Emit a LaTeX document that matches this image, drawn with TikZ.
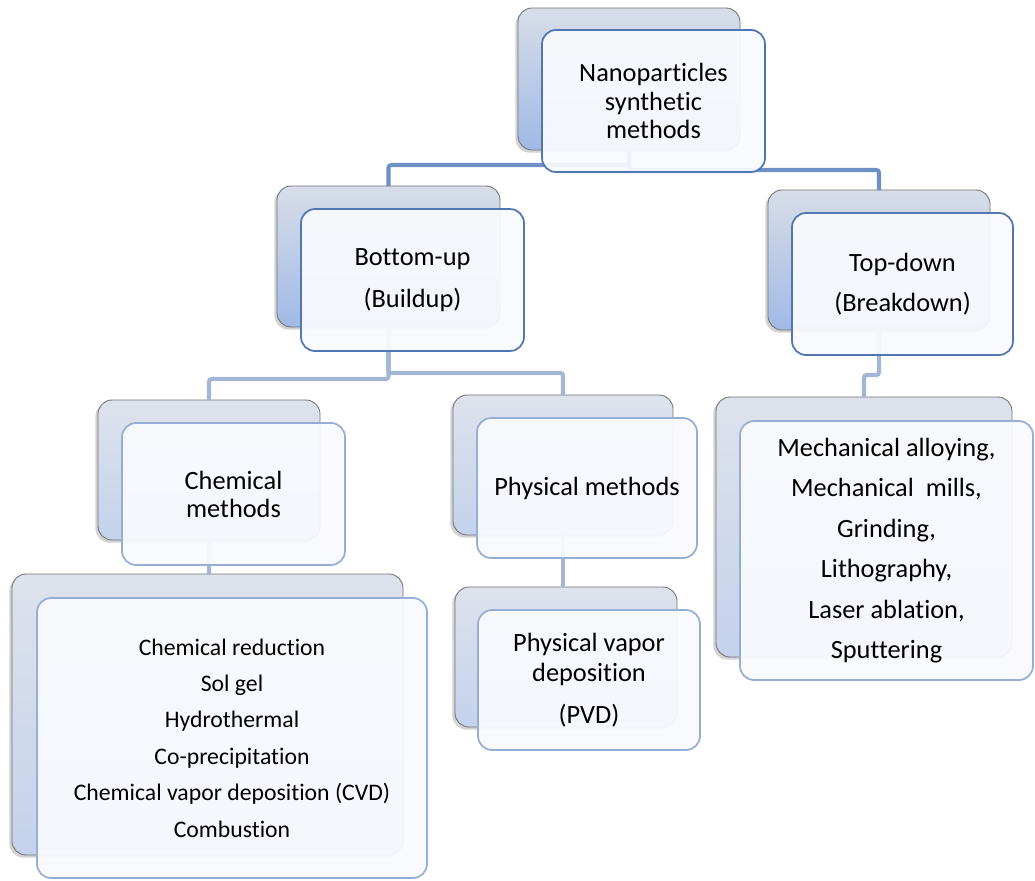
\documentclass[tikz,border=0pt]{standalone}
\usepackage{fontspec}
\setmainfont{Carlito}[Ligatures=NoCommon]
\usetikzlibrary{shadows}
\definecolor{backtop}{RGB}{216,221,232}
\definecolor{backbot}{RGB}{160,186,230}
\definecolor{paletop}{RGB}{222,226,236}
\definecolor{palebot}{RGB}{196,210,236}
\definecolor{frontfill}{RGB}{248,250,253}
\definecolor{edgedark}{RGB}{80,118,180}
\definecolor{edgepale}{RGB}{150,174,214}
\definecolor{linedark}{RGB}{111,144,197}
\definecolor{linepale}{RGB}{164,182,214}
\begin{document}
\begin{tikzpicture}[x=0.02cm,y=-0.02cm,
    wh/.style 2 args={minimum width=#1*0.02cm,minimum height=#2*0.02cm},
    backbox/.style={rounded corners=8pt,inner sep=0pt,outer sep=0pt,
      draw=black!55,line width=0.5pt,top color=backtop,bottom color=backbot,
      drop shadow={shadow xshift=-1.5pt,shadow yshift=-1.5pt,opacity=.35}},
    paleback/.style={backbox,top color=paletop,bottom color=palebot},
    frontbox/.style={rounded corners=8pt,inner sep=0pt,outer sep=0pt,
      draw=edgedark,line width=1pt,fill=frontfill,fill opacity=.94,text opacity=1,
      align=center,font=\fontsize{15}{16}\selectfont},
    palefront/.style={frontbox,draw=edgepale},
    topline/.style={draw=linedark,line width=2.3pt,rounded corners=1.5pt},
    subline/.style={draw=linepale,line width=2.3pt,rounded corners=1.5pt}]
  \useasboundingbox (0,0) rectangle (1035,880);
  \node[backbox,wh={222}{142}] (topB) at (629,79) {};
  \node[backbox,wh={223}{141}] (upB) at (388.5,256.5) {};
  \node[backbox,wh={222}{140}] (tdB) at (879,260) {};
  \node[paleback,wh={222}{140}] (chemB) at (209,470) {};
  \node[paleback,wh={220}{140}] (physB) at (563,465) {};
  \node[paleback,wh={296}{260}] (mechB) at (864,527) {};
  \node[paleback,wh={391}{281}] (listB) at (207.5,714.5) {};
  \node[paleback,wh={222}{140}] (pvdB) at (566,657) {};
  \begin{scope}[-]
    \draw[topline] (topB.south) -- ++(0,15) -| (upB.north);
    \draw[topline] (topB.south) -- ++(0,20) -| (tdB.north);
    \draw[subline] (upB.south) -- ++(0,52) -| (chemB.north);
    \draw[subline] (upB.south) -- ++(0,46) -| (physB.north);
    \draw[subline] (tdB.south) -- ++(0,45) -| (mechB.north);
    \draw[subline] (chemB.south) -- (chemB.south |- listB.north);
    \draw[subline] (physB.south) -- (physB.south |- pvdB.north);
  \end{scope}
  \node[frontbox,wh={223}{142}] (topF) at (653.5,101) {Nanoparticles\\synthetic\\methods};
  \node[frontbox,wh={223}{142}] (upF) at (412.5,280) {Bottom-up\\[7.8pt](Buildup)};
  \node[frontbox,wh={221}{142}] (tdF) at (902.5,284) {Top-down\\[6.7pt](Breakdown)};
  \node[palefront,wh={223}{142}] (chemF) at (233.5,494) {Chemical\\methods};
  \node[palefront,wh={220}{140}] (physF) at (587,488) {Physical methods};
  \node[palefront,wh={293}{259}] (mechF) at (886.5,550.5)
    {Mechanical alloying,\\[7pt]Mechanical\ \ mills,\\[7pt]Grinding,\\[7pt]Lithography,\\[7pt]Laser ablation,\\[7pt]Sputtering};
  \node[palefront,wh={390}{280},font=\fontsize{13.5}{20.7}\selectfont] (listF) at (232,738)
    {Chemical reduction\\Sol gel\\Hydrothermal\\Co-precipitation\\Chemical vapor deposition (CVD)\\Combustion};
  \node[palefront,wh={222}{140}] (pvdF) at (589,680) {Physical vapor\\[1pt]deposition\\[7.8pt](PVD)};
\end{tikzpicture}
\end{document}
